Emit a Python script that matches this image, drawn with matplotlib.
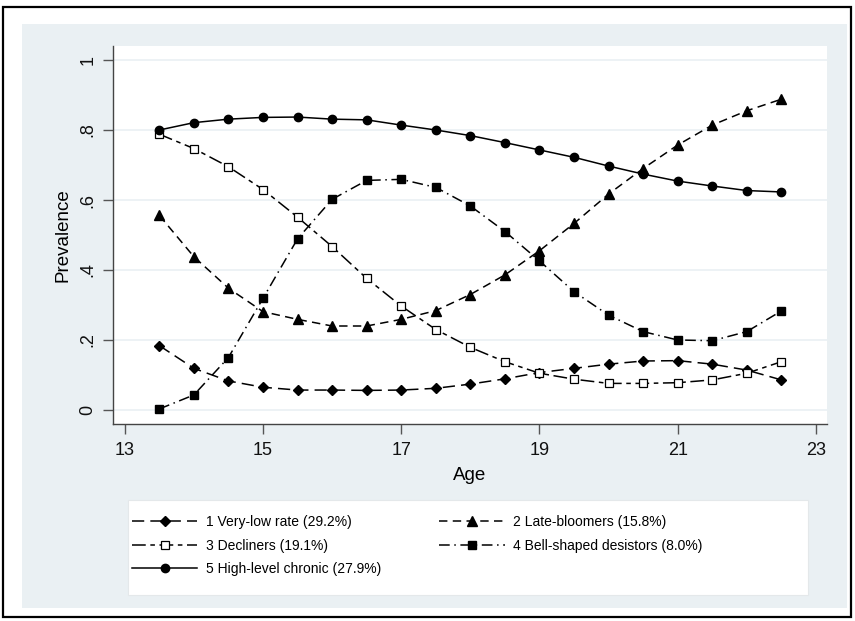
import matplotlib
matplotlib.use("Agg")
import matplotlib.pyplot as plt
from matplotlib.patches import Rectangle

plt.rcParams['font.family'] = ['Liberation Sans', 'DejaVu Sans']

# ages at which prevalence was estimated
ages = [13.5, 14, 14.5, 15, 15.5, 16, 16.5, 17, 17.5, 18,
        18.5, 19, 19.5, 20, 20.5, 21, 21.5, 22, 22.5]

very_low = [0.184, 0.119, 0.083, 0.065, 0.057, 0.057, 0.056, 0.057, 0.062, 0.074,
            0.089, 0.107, 0.119, 0.131, 0.140, 0.141, 0.131, 0.114, 0.086]
late_bloomers = [0.556, 0.438, 0.348, 0.281, 0.259, 0.240, 0.240, 0.259, 0.284, 0.330,
                 0.386, 0.455, 0.533, 0.617, 0.690, 0.757, 0.814, 0.855, 0.888]
decliners = [0.788, 0.747, 0.695, 0.630, 0.551, 0.467, 0.376, 0.297, 0.230, 0.179,
             0.138, 0.105, 0.088, 0.076, 0.076, 0.078, 0.086, 0.105, 0.138]
bell_shaped = [0.003, 0.043, 0.150, 0.319, 0.489, 0.602, 0.656, 0.659, 0.636, 0.583,
               0.510, 0.426, 0.338, 0.271, 0.224, 0.200, 0.198, 0.224, 0.283]
high_chronic = [0.800, 0.821, 0.831, 0.836, 0.837, 0.831, 0.829, 0.814, 0.800, 0.784,
                0.764, 0.743, 0.722, 0.697, 0.674, 0.654, 0.640, 0.627, 0.623]

labels = ['1 Very-low rate (29.2%)', '2 Late-bloomers (15.8%)',
          '3 Decliners (19.1%)', '4 Bell-shaped desistors (8.0%)',
          '5 High-level chronic (27.9%)']

x_ticks = [13, 15, 17, 19, 21, 23]
y_ticks = [0, 0.2, 0.4, 0.6, 0.8, 1.0]
y_tick_labels = ['0', '.2', '.4', '.6', '.8', '1']

bg = '#eaf0f3'
W, H = 855, 621
fig = plt.figure(figsize=(W / 100, H / 100), dpi=100)
fig.patch.set_facecolor('white')

# light panel, legend box and outer frame
fig.patches.append(Rectangle((22 / W, 1 - 608 / H), 825 / W, 584 / H,
                             transform=fig.transFigure, facecolor=bg,
                             edgecolor='none', zorder=-3))
fig.patches.append(Rectangle((128 / W, 1 - 595 / H), 680 / W, 95 / H,
                             transform=fig.transFigure, facecolor='white',
                             edgecolor='#e4e8ea', linewidth=0.8, zorder=-2))
fig.patches.append(Rectangle((3 / W, 1 - 617 / H), 848 / W, 610 / H,
                             transform=fig.transFigure, facecolor='none',
                             edgecolor='black', linewidth=1.6, zorder=-1))

ax = fig.add_axes([113 / W, 1 - 424 / H, (827 - 113) / W, (424 - 46) / H])
ax.set_facecolor('white')

lw = 1.1
l1, = ax.plot(ages, very_low, color='black', lw=lw, linestyle=(0, (8, 4)),
              marker='D', markersize=5.5)
l2, = ax.plot(ages, late_bloomers, color='black', lw=lw, linestyle=(0, (5.5, 3.5)),
              marker='^', markersize=7)
l3, = ax.plot(ages, decliners, color='black', lw=lw, linestyle=(0, (9, 3, 3, 3)),
              marker='s', markersize=5.5, markerfacecolor='white',
              markeredgewidth=0.9)
l4, = ax.plot(ages, bell_shaped, color='black', lw=lw, linestyle=(0, (7, 3, 1, 3)),
              marker='s', markersize=6)
l5, = ax.plot(ages, high_chronic, color='black', lw=lw, linestyle='-',
              marker='o', markersize=6)

ax.set_xlim(12.83, 23.16)
ax.set_ylim(-0.04, 1.04)
ax.set_xticks(x_ticks)
ax.set_yticks(y_ticks)
ax.set_yticklabels(y_tick_labels, rotation=90, va='center')
ax.grid(axis='y', color=bg, linewidth=1.2)
ax.set_axisbelow(True)
for s in ['top', 'right']:
    ax.spines[s].set_visible(False)
for s in ['left', 'bottom']:
    ax.spines[s].set_color('#444444')
    ax.spines[s].set_linewidth(1.0)
ax.tick_params(axis='both', direction='out', length=7, width=1.0,
               color='#555555', labelsize=13, labelcolor='#111111')
ax.tick_params(axis='y', pad=5)
ax.tick_params(axis='x', pad=6)
ax.set_xlabel('Age', fontsize=13.5, labelpad=6)
ax.set_ylabel('Prevalence', fontsize=13.5, labelpad=6)

# legend filled row by row: 1 2 / 3 4 / 5
handles = [l1, l3, l5, l2, l4]
leg_labels = [labels[0], labels[2], labels[4], labels[1], labels[3]]
leg = fig.legend(handles, leg_labels, loc='upper left', ncol=2,
                 bbox_to_anchor=(128 / W, 1 - 511 / H),
                 fontsize=10, handlelength=4.7, handletextpad=0.6,
                 labelspacing=0.68, borderpad=0.3, borderaxespad=0,
                 columnspacing=4.2, frameon=False)

fig.savefig('out.png', dpi=100)
